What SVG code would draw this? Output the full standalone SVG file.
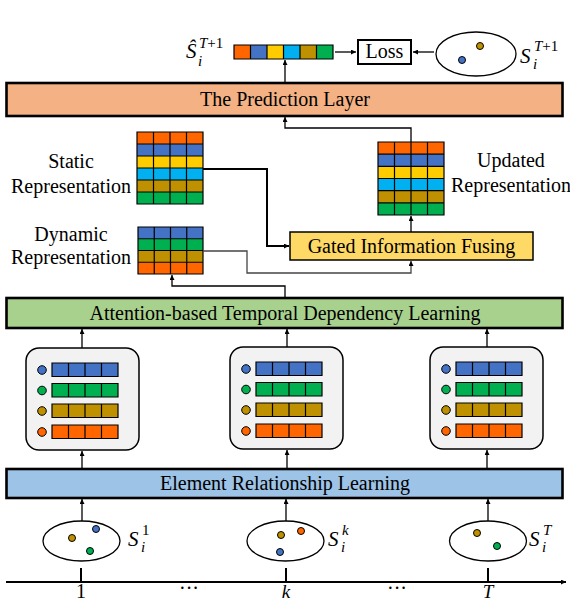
<svg xmlns="http://www.w3.org/2000/svg" width="570" height="602" viewBox="0 0 570 602">
<style>
.t{font-family:"Liberation Serif","Times New Roman",serif;font-size:20px;fill:#000}
.m{font-family:"Liberation Serif","Times New Roman",serif;font-style:italic;fill:#000}
.layer{stroke:#000;stroke-width:2.6}
.grid{fill:none;stroke:#000;stroke-width:1.2}
.conn{fill:none;stroke:#000;stroke-width:1.3}
.panel{fill:#F2F2F2;stroke:#000;stroke-width:1.5}
.ell{fill:#fff;stroke:#000;stroke-width:1.3}
.dot{stroke:#000;stroke-width:1}
.O{fill:#FF6600}.B{fill:#4472C4}.Y{fill:#FFCC00}.C{fill:#00B0F0}.G{fill:#BF9000}.N{fill:#00B050}
</style>
<defs>
<marker id="ah" viewBox="0 0 10 10" refX="10" refY="5" markerWidth="6" markerHeight="5" markerUnits="userSpaceOnUse" orient="auto"><path d="M0,0 L10,5 L0,10 z" fill="#000"/></marker>
<g id="barB"><rect width="66" height="13.5" class="B"/><path d="M0,0H66V13.5H0z M16.5,0V13.5 M33,0V13.5 M49.5,0V13.5" class="grid"/></g>
<g id="barN"><rect width="66" height="13.5" class="N"/><path d="M0,0H66V13.5H0z M16.5,0V13.5 M33,0V13.5 M49.5,0V13.5" class="grid"/></g>
<g id="barG"><rect width="66" height="13.5" class="G"/><path d="M0,0H66V13.5H0z M16.5,0V13.5 M33,0V13.5 M49.5,0V13.5" class="grid"/></g>
<g id="barO"><rect width="66" height="13.5" class="O"/><path d="M0,0H66V13.5H0z M16.5,0V13.5 M33,0V13.5 M49.5,0V13.5" class="grid"/></g>
<g id="panelContent">
<rect x="0" y="0" width="113" height="102" rx="13" class="panel"/>
<circle cx="16" cy="22" r="4.3" class="B dot"/><use href="#barB" x="26" y="15"/>
<circle cx="16" cy="42.5" r="4.3" class="N dot"/><use href="#barN" x="26" y="35.5"/>
<circle cx="16" cy="63" r="4.3" class="G dot"/><use href="#barG" x="26" y="56"/>
<circle cx="16" cy="84" r="4.3" class="O dot"/><use href="#barO" x="26" y="77"/>
</g>
</defs>
<rect width="570" height="602" fill="#fff"/>

<g id="output-vector">
<rect x="234" y="45" width="16.5" height="14" class="O"/>
<rect x="250.5" y="45" width="16.5" height="14" class="B"/>
<rect x="267" y="45" width="16.5" height="14" class="Y"/>
<rect x="283.5" y="45" width="16.5" height="14" class="C"/>
<rect x="300" y="45" width="16.5" height="14" class="G"/>
<rect x="316.5" y="45" width="16.5" height="14" class="N"/>
<path d="M234,45H333V59H234z M250.5,45V59 M267,45V59 M283.5,45V59 M300,45V59 M316.5,45V59" class="grid"/>
<text class="m" x="186" y="58" font-size="21">Ŝ</text>
<text class="m" x="199" y="48" font-size="15">T<tspan font-style="normal">+1</tspan></text>
<text class="m" x="198" y="66" font-size="15">i</text>
</g>

<g id="loss">
<rect x="358" y="40" width="53" height="24" fill="#fff" stroke="#000" stroke-width="2"/>
<text class="t" x="384.5" y="58" text-anchor="middle">Loss</text>
</g>

<g id="target-set">
<ellipse cx="476" cy="54" rx="40" ry="22" class="ell"/>
<circle cx="480" cy="46" r="3.5" class="G dot"/>
<circle cx="462" cy="60" r="3.5" class="B dot"/>
<text class="m" x="520" y="63" font-size="21">S</text>
<text class="m" x="534" y="51" font-size="15">T<tspan font-style="normal">+1</tspan></text>
<text class="m" x="533" y="69" font-size="15">i</text>
</g>

<g id="prediction-layer">
<rect x="6.5" y="83" width="556" height="33" fill="#F4B183" class="layer"/>
<text class="t" x="285" y="106" text-anchor="middle">The Prediction Layer</text>
</g>

<g id="static-rep">
<rect x="137" y="132" width="66" height="12" class="O"/>
<rect x="137" y="144" width="66" height="12" class="B"/>
<rect x="137" y="156" width="66" height="12" class="Y"/>
<rect x="137" y="168" width="66" height="12" class="C"/>
<rect x="137" y="180" width="66" height="12" class="G"/>
<rect x="137" y="192" width="66" height="12" class="N"/>
<path d="M137,132H203V204H137z M153.5,132V204 M170,132V204 M186.5,132V204 M137,144H203 M137,156H203 M137,168H203 M137,180H203 M137,192H203" class="grid"/>
<text class="t" x="71" y="168" text-anchor="middle">Static</text>
<text class="t" x="71" y="193" text-anchor="middle">Representation</text>
</g>

<g id="dynamic-rep">
<rect x="138" y="227" width="65" height="11.75" class="B"/>
<rect x="138" y="238.75" width="65" height="11.75" class="N"/>
<rect x="138" y="250.5" width="65" height="11.75" class="G"/>
<rect x="138" y="262.25" width="65" height="11.75" class="O"/>
<path d="M138,227H203V274H138z M154.25,227V274 M170.5,227V274 M186.75,227V274 M138,238.75H203 M138,250.5H203 M138,262.25H203" class="grid"/>
<text class="t" x="71" y="241" text-anchor="middle">Dynamic</text>
<text class="t" x="71" y="264" text-anchor="middle">Representation</text>
</g>

<g id="updated-rep">
<rect x="378" y="142" width="66" height="12.17" class="O"/>
<rect x="378" y="154.17" width="66" height="12.17" class="B"/>
<rect x="378" y="166.33" width="66" height="12.17" class="Y"/>
<rect x="378" y="178.5" width="66" height="12.17" class="C"/>
<rect x="378" y="190.67" width="66" height="12.17" class="G"/>
<rect x="378" y="202.83" width="66" height="12.17" class="N"/>
<path d="M378,142H444V215H378z M394.5,142V215 M411,142V215 M427.5,142V215 M378,154.17H444 M378,166.33H444 M378,178.5H444 M378,190.67H444 M378,202.83H444" class="grid"/>
<text class="t" x="511" y="167" text-anchor="middle">Updated</text>
<text class="t" x="511" y="192" text-anchor="middle">Representation</text>
</g>

<g id="gated-fusing">
<rect x="290" y="232" width="243" height="28" fill="#FFD966" stroke="#000" stroke-width="1.5"/>
<text class="t" x="411.5" y="253" text-anchor="middle">Gated Information Fusing</text>
</g>

<g id="attention-layer">
<rect x="6.5" y="298" width="556" height="30" fill="#A9D18E" class="layer"/>
<text class="t" x="285" y="320" text-anchor="middle">Attention-based Temporal Dependency Learning</text>
</g>

<g id="panel-1"><use href="#panelContent" x="26" y="348"/></g>
<g id="panel-k"><use href="#panelContent" x="230" y="347"/></g>
<g id="panel-T"><use href="#panelContent" x="430" y="347"/></g>

<g id="element-layer">
<rect x="6.5" y="469" width="556" height="29" fill="#9DC3E6" class="layer"/>
<text class="t" x="285" y="490" text-anchor="middle">Element Relationship Learning</text>
</g>

<g id="set-1">
<ellipse cx="81.5" cy="541" rx="38.5" ry="20" class="ell"/>
<circle cx="72" cy="538" r="3.5" class="G dot"/>
<circle cx="96" cy="529" r="3.5" class="B dot"/>
<circle cx="90" cy="551" r="3.5" class="N dot"/>
<text class="m" x="128" y="546" font-size="21">S</text>
<text class="m" x="142" y="535" font-size="15"><tspan font-style="normal">1</tspan></text>
<text class="m" x="141" y="552" font-size="15">i</text>
</g>

<g id="set-k">
<ellipse cx="285.5" cy="541" rx="38.5" ry="20" class="ell"/>
<circle cx="281" cy="535" r="3.5" class="G dot"/>
<circle cx="301" cy="531" r="3.5" class="O dot"/>
<circle cx="280" cy="552" r="3.5" class="B dot"/>
<text class="m" x="328" y="546" font-size="21">S</text>
<text class="m" x="342" y="535" font-size="15">k</text>
<text class="m" x="341" y="552" font-size="15">i</text>
</g>

<g id="set-T">
<ellipse cx="488" cy="541" rx="38.5" ry="20" class="ell"/>
<circle cx="477" cy="533" r="3.5" class="G dot"/>
<circle cx="497" cy="546" r="3.5" class="N dot"/>
<text class="m" x="529" y="546" font-size="21">S</text>
<text class="m" x="543" y="535" font-size="15">T</text>
<text class="m" x="542" y="552" font-size="15">i</text>
</g>

<g id="time-axis">
<path d="M6,582H566" stroke="#000" stroke-width="2" marker-end="url(#ah)"/>
<path d="M81,568V582 M286,568V582 M488,568V582" stroke="#000" stroke-width="2"/>
<text class="t" x="81" y="598" text-anchor="middle" font-size="19">1</text>
<text class="t" x="189" y="595" text-anchor="middle" font-size="16">···</text>
<text class="m" x="286" y="598" text-anchor="middle" font-size="19">k</text>
<text class="t" x="397" y="595" text-anchor="middle" font-size="16">···</text>
<text class="m" x="488" y="598" text-anchor="middle" font-size="19">T</text>
</g>

<g id="connectors">
<path d="M285,83V60" class="conn" marker-end="url(#ah)"/>
<path d="M335,52H356" class="conn" marker-end="url(#ah)"/>
<path d="M434,52H413" class="conn" marker-end="url(#ah)"/>
<path d="M411,232V216" class="conn" marker-end="url(#ah)"/>
<path d="M411,142V128H285V117" class="conn" marker-end="url(#ah)"/>
<path d="M203,169H267V246H289" fill="none" stroke="#000" stroke-width="2" marker-end="url(#ah)"/>
<path d="M203,251H247V273H411V261" fill="none" stroke="#444" stroke-width="1.3" marker-end="url(#ah)"/>
<path d="M285,298V286H172V275" class="conn" marker-end="url(#ah)"/>
<path d="M82,348V329" class="conn" marker-end="url(#ah)"/>
<path d="M287,347V329" class="conn" marker-end="url(#ah)"/>
<path d="M487,347V329" class="conn" marker-end="url(#ah)"/>
<path d="M82,469V451" class="conn" marker-end="url(#ah)"/>
<path d="M287,469V450" class="conn" marker-end="url(#ah)"/>
<path d="M487,469V450" class="conn" marker-end="url(#ah)"/>
<path d="M82,521V499" class="conn" marker-end="url(#ah)"/>
<path d="M286,521V499" class="conn" marker-end="url(#ah)"/>
<path d="M488,521V499" class="conn" marker-end="url(#ah)"/>
</g>
</svg>
